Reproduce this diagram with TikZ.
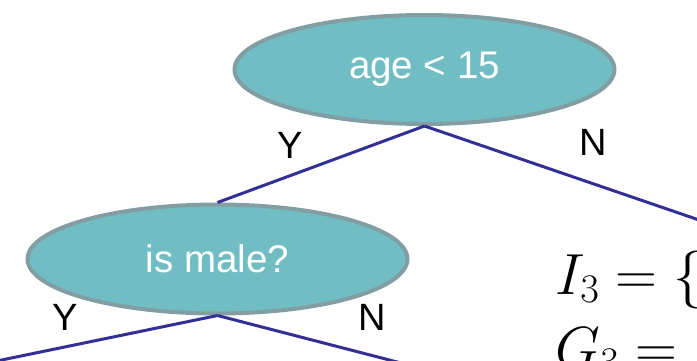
\RequirePackage{fix-cm}
\documentclass[tikz,border=0pt]{standalone}
\usepackage{amsmath}
\usepackage{fontspec}
\newfontfamily\arialfont{Liberation Sans}
\usetikzlibrary{shapes.geometric,arrows}
\definecolor{nodefill}{RGB}{113,189,196}
\definecolor{nodeborder}{RGB}{130,158,163}
\definecolor{edgeblue}{RGB}{50,48,150}

\begin{document}
\begin{tikzpicture}[x=1pt,y=-1pt,
        test/.style={ellipse,draw=nodeborder,fill=nodefill,line width=4pt,
            minimum width=380pt,minimum height=109pt,inner sep=0pt,
            text=white,font=\arialfont\fontsize{38.5}{40}\selectfont},
        branch/.style={draw=edgeblue,line width=3pt},
        lab/.style={font=\arialfont\fontsize{38}{40}\selectfont},
        formula/.style={anchor=base west,inner sep=0pt,font=\fontsize{58}{68}\selectfont}]
        \useasboundingbox (0,0) rectangle (697,360);
        \clip (0,0) rectangle (697,360);
        % nodi
        \node[test] (age)  at (424.5,69.5) {age < 15};
        \node[test] (male) at (217.5,259)  {is male?};
        \coordinate (ageN)  at (740,234);
        \coordinate (maleY) at (-30,366.5);
        \coordinate (maleN) at (430,370.5);
        % archi
        \path[branch]
            (age.south)  edge (male.north)
                         edge (ageN)
            (male.south) edge (maleY)
                         edge (maleN);
        % etichette
        \node[lab] (ageY)  at (290,145) {Y};
        \node[lab] (ageNo) at (593,142) {N};
        \node[lab] (maleYes) at (65,317) {Y};
        \node[lab] (maleNo)  at (372,317) {N};
        % formule
        \node[formula] (I3) at (555,294) {$I_3 = \{$};
        \node[formula] (G3) at (555,367) {$G_3 =$};
\end{tikzpicture}
\end{document}
